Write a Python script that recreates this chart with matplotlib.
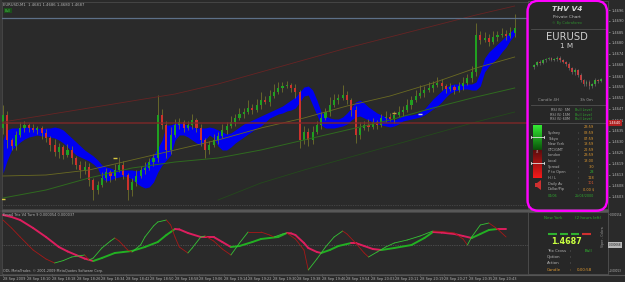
"""
MT4 style EURUSD M1 screenshot: candles, blue cloud, Trix subwindow, THV V4 panel.
"""

import numpy as np
import matplotlib
matplotlib.use("Agg")
import matplotlib.pyplot as plt
from matplotlib.collections import LineCollection
from matplotlib.patches import FancyBboxPatch, Rectangle, Polygon

W, H = 625, 282
BG = "#2a2a2a"
PANEL_BG = "#272727"
EDGE = "#505050"
TXT = "#b4b4b4"
BULL = "#20a020"
BEAR = "#cc322c"
WICK = "#76762a"
BAND = "#0000f0"
ORANGE = "#e09a30"
GREEN_TXT = "#2fa52f"

# ---- main chart data, prices in MT4 points (1e-5), wicks in pips ----
FIRST_OPEN = 146370
CLOSE = [
    146435, 146310, 146280, 146335, 146370, 146385, 146370, 146360, 146370, 146345,
    146320, 146285, 146250, 146275, 146235, 146260, 146220, 146185, 146160, 146175,
    146110, 146060, 146085, 146120, 146150, 146130, 146160, 146185, 146135, 146060,
    146100, 146130, 146160, 146170, 146200, 146220, 146435, 146385, 146260, 146335,
    146385, 146400, 146370, 146385, 146410, 146370, 146310, 146260, 146285, 146310,
    146330, 146360, 146380, 146400, 146420, 146440, 146450, 146470, 146460, 146485,
    146510, 146500, 146530, 146550, 146570, 146580, 146585, 146570, 146550, 146310,
    146350, 146310, 146350, 146385, 146420, 146450, 146485, 146510, 146520, 146535,
    146510, 146460, 146335, 146370, 146385, 146375, 146400, 146385, 146420, 146425,
    146415, 146435, 146450, 146460, 146485, 146510, 146530, 146545, 146560, 146570,
    146585, 146595, 146580, 146565, 146575, 146560, 146580, 146595, 146620, 146650,
    146835, 146810, 146820, 146800, 146825, 146835, 146840, 146830, 146845, 146870,
]
UPPER_WICK = [
    5, 2, 1, 2, 3, 2, 1, 2, 1, 1, 2, 1, 3, 2, 1, 3, 2, 1, 2, 3,
    2, 1, 2, 3, 2, 1, 3, 4, 2, 1, 2, 3, 2, 3, 2, 2, 10, 3, 2, 4,
    3, 2, 1, 2, 3, 1, 2, 1, 2, 3, 2, 3, 2, 3, 2, 3, 2, 4, 2, 3,
    4, 2, 3, 4, 3, 2, 2, 1, 2, 1, 3, 2, 3, 2, 3, 2, 4, 3, 2, 5,
    2, 1, 2, 3, 2, 3, 2, 1, 2, 3, 2, 2, 3, 2, 3, 2, 3, 4, 2, 3,
    2, 3, 2, 1, 2, 1, 2, 3, 2, 3, 6, 2, 3, 2, 3, 2, 3, 2, 3, 7,
]
LOWER_WICK = [
    3, 4, 2, 2, 1, 2, 2, 1, 2, 3, 2, 3, 2, 3, 2, 1, 3, 2, 4, 2,
    3, 5, 2, 1, 2, 3, 2, 1, 2, 5, 3, 2, 1, 2, 1, 2, 2, 2, 4, 2,
    1, 2, 2, 1, 2, 2, 3, 4, 2, 1, 2, 1, 2, 1, 2, 1, 2, 1, 2, 1,
    2, 1, 2, 1, 1, 2, 1, 2, 3, 4, 2, 3, 2, 1, 2, 1, 2, 1, 2, 1,
    2, 3, 4, 2, 1, 2, 1, 2, 1, 2, 1, 2, 1, 2, 1, 2, 1, 1, 2, 1,
    2, 1, 2, 2, 1, 2, 1, 2, 1, 2, 2, 2, 1, 2, 1, 2, 1, 2, 1, 2,
]
BAND_TOP = [
    146310, 146360, 146370, 146370, 146370, 146375, 146375, 146370, 146370, 146365,
    146370, 146370, 146375, 146370, 146360, 146340, 146320, 146300, 146280, 146260,
    146245, 146230, 146210, 146185, 146175, 146170, 146160, 146160, 146160, 146160,
    146160, 146155, 146160, 146185, 146210, 146235, 146270, 146310, 146385, 146385,
    146395, 146395, 146390, 146385, 146375, 146370, 146370, 146370, 146375, 146370,
    146360, 146350, 146340, 146345, 146360, 146375, 146390, 146400, 146410, 146420,
    146430, 146440, 146450, 146460, 146470, 146480, 146495, 146510, 146525, 146550,
    146575, 146580, 146560, 146510, 146450, 146430, 146420, 146415, 146415, 146425,
    146445, 146470, 146500, 146510, 146495, 146475, 146460, 146445, 146435, 146425,
    146415, 146410, 146420, 146430, 146435, 146435, 146440, 146450, 146465, 146490,
    146515, 146535, 146555, 146575, 146585, 146590, 146590, 146590, 146590, 146590,
    146600, 146650, 146720, 146750, 146770, 146790, 146810, 146830, 146850, 146870,
]
BAND_BOTTOM = [
    146145, 146210, 146260, 146280, 146300, 146315, 146325, 146330, 146335, 146330,
    146330, 146325, 146320, 146310, 146295, 146275, 146255, 146235, 146225, 146215,
    146205, 146190, 146170, 146120, 146105, 146110, 146120, 146125, 146130, 146125,
    146115, 146095, 146080, 146070, 146075, 146100, 146150, 146185, 146210, 146235,
    146310, 146335, 146335, 146325, 146310, 146295, 146285, 146310, 146335, 146320,
    146280, 146260, 146260, 146275, 146295, 146310, 146325, 146340, 146355, 146370,
    146380, 146400, 146420, 146430, 146440, 146445, 146455, 146460, 146470, 146500,
    146530, 146535, 146485, 146435, 146385, 146370, 146370, 146370, 146375, 146380,
    146390, 146410, 146425, 146430, 146420, 146410, 146400, 146390, 146385, 146380,
    146375, 146380, 146390, 146405, 146410, 146415, 146420, 146425, 146435, 146450,
    146465, 146480, 146500, 146525, 146545, 146555, 146560, 146565, 146565, 146560,
    146560, 146580, 146650, 146680, 146700, 146720, 146750, 146775, 146810, 146835,
]

MA_IDX = [0, 10, 20, 30, 40, 50, 60, 70, 80, 90, 100, 110, 119]
RED_CURVE = [146400, 146435, 146470, 146505, 146540, 146590, 146650, 146710, 146770,
             146825, 146880, 146935, 146980]
OLIVE_MA = [146130, 146135, 146160, 146210, 146260, 146310, 146370, 146420, 146480,
            146530, 146595, 146670, 146725]
GREEN_MA = [146020, 146060, 146120, 146170, 146200, 146220, 146260, 146310, 146360,
            146410, 146470, 146525, 146570]
SLOW_MA_IDX = [50, 60, 70, 80, 90, 100, 110, 119]
SLOW_MA = [146010, 146095, 146160, 146220, 146280, 146340, 146400, 146450]

PIVOT_LEVEL = 146395
TOP_LEVEL = 146920
BOTTOM_LEVEL = 145985

MARK_IDX = [0, 26, 91, 97]
MARK_PTS = [146015, 146220, 146445, 146440]
MARK_COLORS = ["#d8c840", "#d8c840", "#c8a040", "#d0d0d0"]

# ---- Trix subwindow, values in 1e-6 ----
SLOW_IDX = [0, 2, 4, 7, 10, 13, 15, 17, 19, 21, 23, 26, 28, 30, 33, 36, 38, 40, 41, 43,
            46, 49, 51, 53, 55, 58, 60, 62, 64, 66, 67, 68, 70, 71, 73, 74, 76, 78, 81,
            82, 84, 86, 88, 91, 95, 98, 100, 102, 105, 107, 109, 111, 113, 115, 117]
TRIX_SLOW = [150, 140, 125, 85, 40, -10, -32, -50, -68, -80, -65, -40, -35, -30, -10, 15,
             50, 80, 78, 60, 40, 40, 15, -10, -5, 15, 30, 35, 40, 60, 58, 50, 10, -15,
             -35, -40, -25, -5, 10, 10, -5, -20, -25, -15, 0, 35, 65, 62, 55, 45, 35,
             55, 75, 80, 80]
FAST_IDX = [0, 2, 4, 7, 10, 12, 14, 16, 19, 20, 21, 23, 25, 26, 27, 29, 30, 32, 33, 35,
            36, 38, 39, 40, 41, 43, 44, 46, 47, 49, 51, 53, 55, 57, 60, 62, 63, 65, 66,
            68, 70, 71, 73, 75, 77, 79, 80, 82, 84, 85, 87, 89, 91, 94, 97, 100, 102,
            105, 107, 108, 109, 111, 113, 115, 117]
TRIX_FAST = [125, 85, 40, -25, -70, -90, -78, -60, -50, -75, -65, -15, 20, 35, 20, -25,
             -35, 0, 40, 95, 115, 125, 100, 40, -10, -40, -15, 40, 45, 20, -20, -50, 10,
             65, 65, 50, 40, 55, 60, 30, -25, -125, -70, -10, 40, 70, 55, 10, -40, -60,
             -35, -10, 10, 25, 45, 70, 68, 60, 30, 0, 40, 100, 110, 80, 40]

TIME_LABELS = ["28 Sep 2009", "28 Sep 18:10", "28 Sep 18:18", "28 Sep 18:26",
               "28 Sep 18:34", "28 Sep 18:42", "28 Sep 18:50", "28 Sep 18:58",
               "28 Sep 19:06", "28 Sep 19:14", "28 Sep 19:22", "28 Sep 19:30",
               "28 Sep 19:38", "28 Sep 19:46", "28 Sep 19:54", "28 Sep 20:03",
               "28 Sep 20:11", "28 Sep 20:19", "28 Sep 20:27", "28 Sep 20:35",
               "28 Sep 20:43"]

# ---- THV panel mini chart ----
MINI_FIRST_OPEN = 1.4626
MINI_CLOSE = [1.4630, 1.4636, 1.4634, 1.4640, 1.4642, 1.4644, 1.4641, 1.4643, 1.4645,
              1.4640, 1.4636, 1.4632, 1.4624, 1.4616, 1.4620, 1.4610, 1.4600, 1.4592,
              1.4596, 1.4588, 1.4592, 1.4600, 1.4598, 1.4602]
MINI_WICK = [3, 2, 4, 2, 3, 2, 3, 2, 4, 3, 2, 3, 4, 3, 5, 3, 4, 3, 4, 5, 3, 4, 3, 2]

CLOCK_ROWS = [("", "23:59", ORANGE), ("Sydney", "08:59", ORANGE), ("Tokyo", "07:59", ORANGE),
              ("New York", "18:59", ORANGE), ("GTC/GMT", "22:59", ORANGE),
              ("London", "23:59", ORANGE), ("Local", "18:00", ORANGE),
              ("Spread", "3.0", ORANGE), ("P to Open", "28", "#30c030"),
              ("H / L", "118", ORANGE), ("Daily Av", "101", "#e05a30"),
              ("Dollar/Pip", "0.00 $", ORANGE)]
RSI_ROWS = ["RSI (5)  5M", "RSI (5) 15M", "RSI (5) 60M"]


def px_axes(fig, x0, y0, x1, y1):
    return fig.add_axes([x0 / W, 1 - y1 / H, (x1 - x0) / W, (y1 - y0) / H])


def trend_line(ax, x, y, up_color, down_color, lw):
    pts = np.column_stack([x, y])
    segs = np.stack([pts[:-1], pts[1:]], axis=1)
    colors = [up_color if b > a else down_color for a, b in zip(y[:-1], y[1:])]
    ax.add_collection(LineCollection(segs, colors=colors, linewidths=lw,
                                     capstyle="round", joinstyle="round", zorder=4))


def style_axes(ax):
    ax.set_facecolor(BG)
    for sp in ax.spines.values():
        sp.set_color(EDGE)
        sp.set_linewidth(0.5)


fig = plt.figure(figsize=(W / 100, H / 100), dpi=100, facecolor=BG)

idx = np.arange(len(CLOSE))
x_lim = (-0.23, 140.7)

# main chart
ax = px_axes(fig, 2, 2, 608, 209)
style_axes(ax)
close = np.array(CLOSE) / 1e5
open_ = np.r_[FIRST_OPEN, CLOSE[:-1]] / 1e5
high = np.maximum(open_, close) + np.array(UPPER_WICK) * 1e-4
low = np.minimum(open_, close) - np.array(LOWER_WICK) * 1e-4
body = np.maximum(np.abs(close - open_), 0.00002)

ax.fill_between(idx, np.array(BAND_BOTTOM) / 1e5, np.array(BAND_TOP) / 1e5,
                color=BAND, lw=0, zorder=2)
ax.vlines(idx, low, high, color=WICK, lw=0.55, zorder=3)
ax.bar(idx, body, bottom=np.minimum(open_, close), width=0.5,
       color=np.where(close >= open_, BULL, BEAR), lw=0, zorder=4)

ax.plot(MA_IDX, np.array(RED_CURVE) / 1e5, color="#672424", lw=0.6, zorder=5)
ax.plot(MA_IDX, np.array(OLIVE_MA) / 1e5, color="#6a6a22", lw=0.6, zorder=5)
ax.plot(MA_IDX, np.array(GREEN_MA) / 1e5, color="#2f6a1f", lw=0.7, zorder=5)
ax.plot(SLOW_MA_IDX, np.array(SLOW_MA) / 1e5, color="#244a1c", lw=0.6, zorder=5)
ax.axhline(PIVOT_LEVEL / 1e5, color="#7e2828", lw=1.1, alpha=0.9, zorder=5)
ax.axhline(TOP_LEVEL / 1e5, color="#5d7088", lw=0.9, zorder=5)
ax.axhline(BOTTOM_LEVEL / 1e5, color="#5c5c5c", lw=0.5, ls=(0, (1, 1.5)), zorder=5)
for i, p, c in zip(MARK_IDX, MARK_PTS, MARK_COLORS):
    ax.plot([i], [p / 1e5], marker="_", color=c, ms=3, mew=1, zorder=6)

ax.set_xlim(*x_lim)
ax.set_ylim(1.45965, 1.47000)
ax.set_xticks([])
ax.yaxis.tick_right()
yt = np.arange(146960, 145990, -55) / 1e5
ax.set_yticks(yt)
ax.set_yticklabels([f"{v:.4f}" for v in yt])
ax.tick_params(axis="y", colors=TXT, labelsize=2.6, length=1.5, width=0.4, pad=1.0)

# Trix subwindow
sub = px_axes(fig, 2, 212, 608, 274)
style_axes(sub)
sub.axhline(0, color="#6a6a6a", lw=0.5, ls=(0, (1, 1.5)), zorder=2)
trend_line(sub, np.array(SLOW_IDX), np.array(TRIX_SLOW) * 1e-6, "#22b022", "#dc1e5e", 1.4)
trend_line(sub, np.array(FAST_IDX), np.array(TRIX_FAST) * 1e-6, "#35c435", "#a81818", 0.6)
sub.set_xlim(*x_lim)
sub.set_ylim(-145e-6, 165e-6)
sub.yaxis.tick_right()
sub.set_yticks([154e-6, -130e-6])
sub.set_yticklabels(["0.000154", "-0.00013"])
sub.tick_params(axis="y", colors=TXT, labelsize=2.0, length=1.0, width=0.4, pad=0.5)
tpos = np.arange(len(TIME_LABELS)) * 5.7
sub.set_xticks(tpos)
sub.set_xticklabels(TIME_LABELS, ha="left")
sub.tick_params(axis="x", colors=TXT, labelsize=2.5, length=1.5, width=0.4, pad=1.0)

# overlay in pixel coordinates
ov = fig.add_axes([0, 0, 1, 1])
ov.set_zorder(10)
ov.patch.set_alpha(0)
ov.axis("off")


def t(x, y, s, size=2.6, color=TXT, ha="left", **kw):
    ov.text(x, y, s, fontsize=size, color=color, ha=ha, va="center", **kw)


ov.plot([0, 608], [210.5, 210.5], color="#5e5e5e", lw=1.3)
ov.plot([0, 625], [274.5, 274.5], color="#555555", lw=0.8)
ov.plot([1, 1], [0, 274], color="#3c3c3c", lw=1.2)

t(3, 5, "EURUSD,M1  1.4681 1.4686 1.4680 1.4687", size=2.7)
t(5, 10.5, "Bull", size=2.3, color="#45c845",
  bbox=dict(boxstyle="square,pad=0.3", fc="#1c4f1c", ec="none"))
t(3, 215.5, "Ema4 Trix V4 Turn 9 0.000054 0.000037", size=2.5)
t(3, 271, "ODL MetaTrader, \u00a9 2001-2009 MetaQuotes Software Corp.", size=2.4)
t(609, 123, "1.4640", size=2.5, color="white",
  bbox=dict(boxstyle="square,pad=0.25", fc="#b02020", ec="none"))
t(609, 245, "0.000068", size=2.0, color="#202020",
  bbox=dict(boxstyle="square,pad=0.25", fc="#b8b8b8", ec="none"))

# THV panel
ov.add_patch(Rectangle((528, 1), 80, 208, fc=PANEL_BG, ec=EDGE, lw=0.6))
ov.add_patch(Rectangle((528, 212), 80, 62, fc=PANEL_BG, ec=EDGE, lw=0.6))
for yy in (29, 105, 123):
    ov.plot([531, 605], [yy, yy], color=EDGE, lw=0.6)

t(567, 9, "THV V4", size=5.3, color="#d8d8d8", ha="center",
  fontweight="bold", fontstyle="italic")
t(567, 17, "Private Chart", size=3.1, color="#bdbdbd", ha="center")
t(567, 23, "\u00a9 By Cobraforex", size=2.5, color="#2f8f2f", ha="center")
t(567, 37, "EURUSD", size=7.2, color="#cfcfcf", ha="center")
t(567, 46, "1 M", size=5.2, color="#cfcfcf", ha="center")
t(548, 100, "Candle 4H", size=2.9, color="#9a9a9a", ha="center")
t(586, 100, "3h 0m", size=2.9, color="#9a9a9a", ha="center")
for k, name in enumerate(RSI_ROWS):
    yy = 110 + k * 4.5
    t(570, yy, name, size=2.4, ha="right")
    t(575, yy, "Bull Level", size=2.4, color=GREEN_TXT)

for k, (name, val, col) in enumerate(CLOCK_ROWS):
    yy = 127.5 + k * 5.6
    if name:
        t(548, yy, name, size=2.5)
        t(578, yy, ":", size=2.5)
    t(594, yy, val, size=2.5, color=col, ha="right")
t(548, 196, "04/06", size=2.4, color=GREEN_TXT)
t(594, 196, "25/04/2000", size=2.4, color=GREEN_TXT, ha="right")

# gauge: green over red gradient
g_top = np.linspace([0.20, 0.92, 0.20], [0.04, 0.33, 0.04], 30)
g_bot = np.linspace([0.36, 0.05, 0.05], [0.96, 0.10, 0.10], 34)
ov.imshow(np.vstack([g_top, g_bot])[:, None, :], extent=(533, 542, 178, 125),
          origin="upper", aspect="auto", zorder=3)
t(537.5, 152, "45", size=2.0, color="#cfcfcf", ha="center", zorder=4)
for yy in (137, 163):
    ov.plot([531, 544], [yy, yy], color="#e0e0e0", lw=0.6, zorder=4)
    ov.plot([531, 531], [yy - 1.2, yy + 1.2], color="#e0e0e0", lw=0.6, zorder=4)
    ov.plot([544, 544], [yy - 1.2, yy + 1.2], color="#e0e0e0", lw=0.6, zorder=4)
ov.add_patch(Polygon([(535, 183), (537, 183), (541, 180), (541, 190), (537, 187), (535, 187)],
                     closed=True, fc="#d03030", ec="none"))

# subwindow part of panel
t(553, 218, "New York", size=2.9, color=GREEN_TXT, ha="center")
t(588, 218, "(2 hours left)", size=2.9, color=GREEN_TXT, ha="center")
for (x0, x1), col in zip([(548, 557), (560, 568), (571, 579), (582, 591)],
                         ["#2fb02f", "#2fb02f", "#2fb02f", "#d03030"]):
    ov.plot([x0, x1], [234, 234], color=col, lw=1.5, solid_capstyle="butt")
t(567, 242, "1.4687", size=5.8, color="#c8ff40", ha="center", fontweight="bold")
t(547, 251, "Trix Cross", size=2.9)
t(570, 251, ":", size=2.9)
t(588, 251, "Bull", size=2.9, color="#30c030", ha="center")
t(547, 257, "Option", size=2.9)
t(570, 257, ":", size=2.9)
t(547, 263, "Action", size=2.9)
t(570, 263, ":", size=2.9)
t(547, 270, "Candle", size=2.9, color=ORANGE)
t(570, 270, ":", size=2.9, color=ORANGE)
t(592, 270, "0:00:58", size=2.9, color=ORANGE, ha="right")
t(603, 237, "Viper - Cobra", size=2.3, color="#9a9a9a", ha="center", rotation=90)

# hand drawn magenta outline
ov.add_patch(FancyBboxPatch((527.5, 0.8), 79.5, 210, boxstyle="round,pad=0,rounding_size=11",
                            fc="none", ec="#ff00ff", lw=1.7, zorder=8))
ov.set_xlim(0, W)
ov.set_ylim(H, 0)

# mini chart inside the panel
mini = px_axes(fig, 531, 52, 604, 95)
mini.set_zorder(11)
mini.patch.set_alpha(0)
mini.axis("off")
m_close = np.array(MINI_CLOSE)
m_open = np.r_[MINI_FIRST_OPEN, MINI_CLOSE[:-1]]
m_idx = np.arange(len(m_close))
m_w = np.array(MINI_WICK) * 1e-4
mini.vlines(m_idx, np.minimum(m_open, m_close) - m_w, np.maximum(m_open, m_close) + m_w,
            color="#7a7a7a", lw=0.4)
mini.bar(m_idx, np.maximum(np.abs(m_close - m_open), 0.0001), bottom=np.minimum(m_open, m_close),
         width=0.6, color=np.where(m_close >= m_open, "#22aa22", "#d03030"), lw=0)
mini.set_xlim(-1, len(m_close))
mini.set_ylim(1.4570, 1.4656)

fig.savefig("out.png", dpi=100, facecolor=BG)
